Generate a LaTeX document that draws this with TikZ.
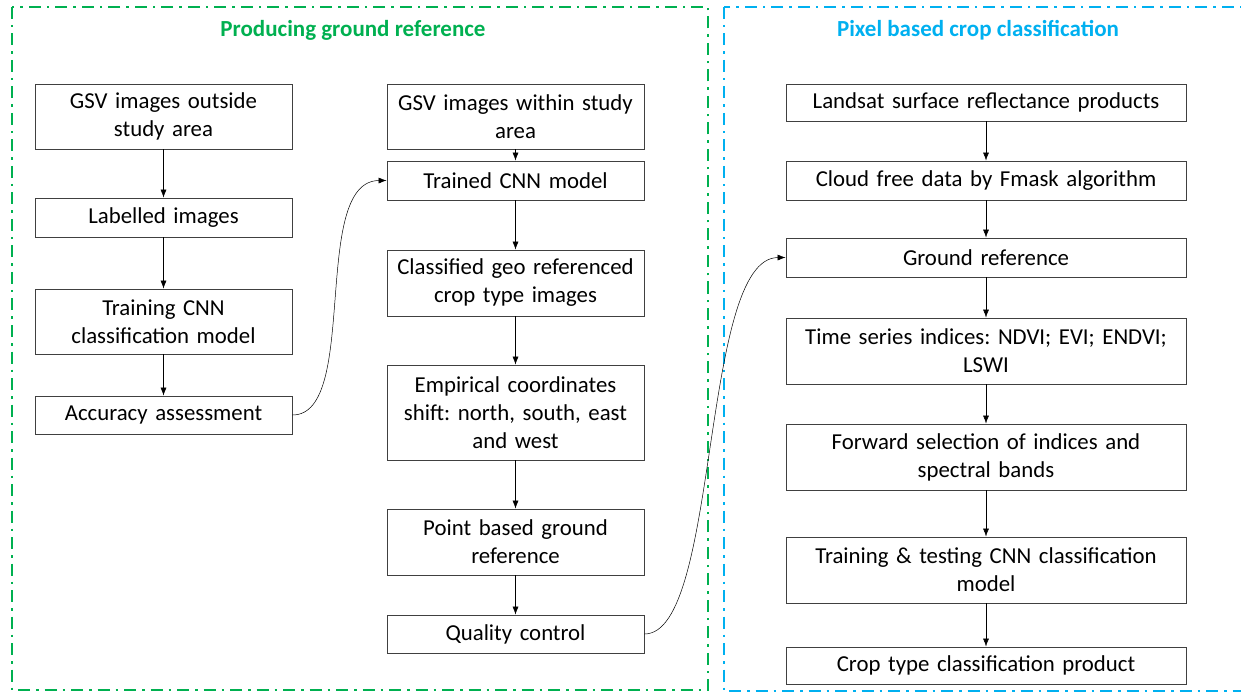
\documentclass[tikz,border=0pt]{standalone}
\usepackage{fontspec}
\setmainfont{Carlito}
\usetikzlibrary{arrows.meta}
\definecolor{framegreen}{HTML}{00B050}
\definecolor{frameblue}{HTML}{00B0F0}
\frenchspacing
\tikzset{
  flowbox/.style={draw=black!75, line width=0.9pt, align=center, inner sep=2pt,
    font=\fontsize{22.8}{28}\selectfont},
  leftbox/.style={flowbox, minimum width=257pt, text width=252pt},
  rightbox/.style={flowbox, minimum width=400pt, text width=394pt},
  flowarrow/.style={-{Latex[length=8pt,width=6pt]}, line width=0.5pt},
  frameline/.style={line width=2.5pt, dash pattern=on 12pt off 6pt on 2.5pt off 6pt},
  frametitle/.style={font=\fontsize{23}{27}\selectfont\bfseries}
}
\begin{document}
\begin{tikzpicture}[x=1pt,y=-1pt]
  \useasboundingbox (0,0) rectangle (1241,692);
  % dash-dot frames
  \draw[frameline, framegreen] (12,7) rectangle (708,690);
  \draw[frameline, frameblue] (724,7) rectangle (1262,691);
  \node[frametitle, text=framegreen] (titleground) at (353,30) {Producing ground reference};
  \node[frametitle, text=frameblue] (titlepixel) at (978,30) {Pixel based crop classification};

  % left column
  \node[leftbox, minimum height=65pt] (gsvout) at (163.5,116.5) {GSV images outside\\study area};
  \node[leftbox, minimum height=39pt] (labelled) at (163.5,217.5) {Labelled images};
  \node[leftbox, minimum height=65pt] (trainmodel) at (163.5,321.5) {Training CNN\\classification model};
  \node[leftbox, minimum height=38pt] (accuracy) at (163.5,415) {Accuracy assessment};

  % middle column
  \node[leftbox, minimum height=65pt] (gsvin) at (515.5,116.5) {GSV images within study\\area};
  \node[leftbox, minimum height=39pt] (trained) at (515.5,180.5) {Trained CNN model};
  \node[leftbox, minimum height=66pt] (classified) at (515.5,283) {Classified geo referenced\\crop type images};
  \node[leftbox, minimum height=95pt] (shift) at (515.5,412.5) {Empirical coordinates\\shift: north, south, east\\and west};
  \node[leftbox, minimum height=66pt] (pointref) at (515.5,542) {Point based ground\\reference};
  \node[leftbox, minimum height=38pt] (quality) at (515.5,634) {Quality control};

  % right column
  \node[rightbox, minimum height=37pt] (landsat) at (986,102.5) {Landsat surface reflectance products};
  \node[rightbox, minimum height=39pt] (cloudfree) at (986,180.5) {Cloud free data by Fmask algorithm};
  \node[rightbox, minimum height=39pt] (groundref) at (986,257.5) {Ground reference};
  \node[rightbox, minimum height=66pt] (indices) at (986,351) {Time series indices: NDVI; EVI; ENDVI;\\LSWI};
  \node[rightbox, minimum height=66pt] (forward) at (986,457) {Forward selection of indices and\\spectral bands};
  \node[rightbox, minimum height=66pt] (traintest) at (986,570) {Training \& testing CNN classification\\model};
  \node[rightbox, minimum height=37pt] (product) at (986,665.5) {Crop type classification product};

  % arrows
  \draw[flowarrow] (gsvout) -- (labelled);
  \draw[flowarrow] (labelled) -- (trainmodel);
  \draw[flowarrow] (trainmodel) -- (accuracy);
  \draw[flowarrow] (gsvin) -- (trained);
  \draw[flowarrow] (trained) -- (classified);
  \draw[flowarrow] (classified) -- (shift);
  \draw[flowarrow] (shift) -- (pointref);
  \draw[flowarrow] (pointref) -- (quality);
  \draw[flowarrow] (landsat) -- (cloudfree);
  \draw[flowarrow] (cloudfree) -- (groundref);
  \draw[flowarrow] (groundref) -- (indices);
  \draw[flowarrow] (indices) -- (forward);
  \draw[flowarrow] (forward) -- (traintest);
  \draw[flowarrow] (traintest) -- (product);
  \draw[flowarrow] (accuracy.east) .. controls (360,415) and (310,181) .. (trained.west);
  \draw[flowarrow] (quality.east) .. controls (720,634) and (700,258) .. (groundref.west);
\end{tikzpicture}
\end{document}
